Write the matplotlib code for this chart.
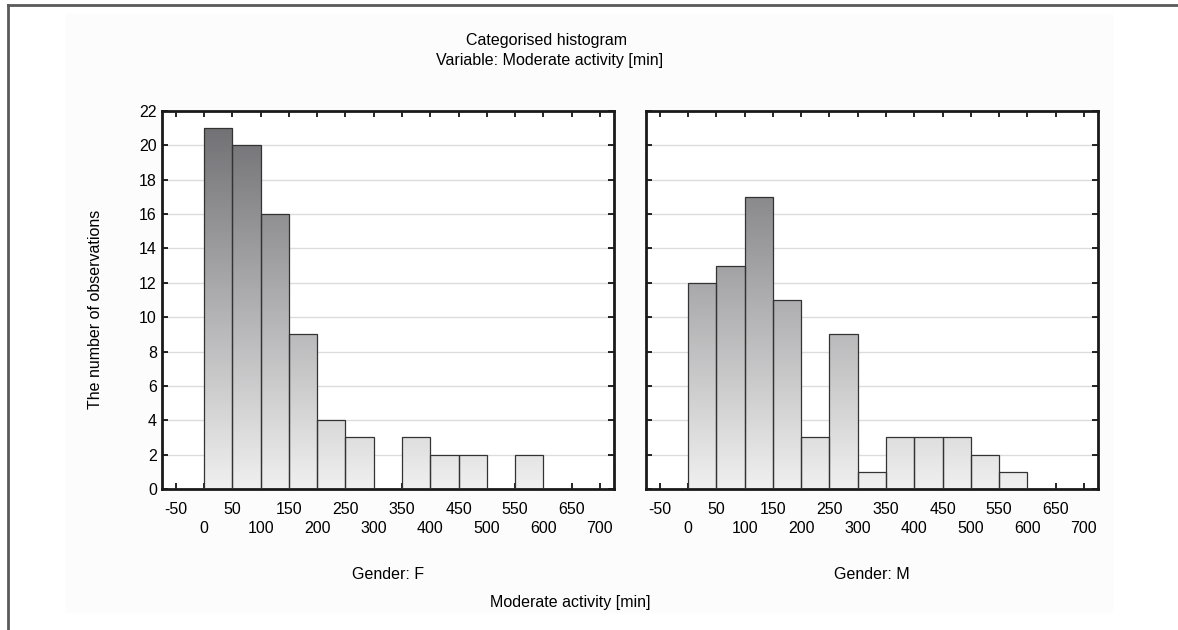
# ============================================================
# 分類ヒストグラム（性別ごと）: Moderate activity [min]
# ============================================================
import numpy as np
import matplotlib
matplotlib.use("Agg")
import matplotlib.pyplot as plt
from matplotlib.colors import LinearSegmentedColormap
from matplotlib.lines import Line2D
from matplotlib.patches import Rectangle

plt.rcParams['font.family'] = ['Liberation Sans', 'DejaVu Sans']

# ----------------------------
# データ（ビン幅 50 分）
# ----------------------------
bin_left = [0, 50, 100, 150, 200, 250, 300, 350, 400, 450, 500, 550]
bin_width = 50
counts_f = [21, 20, 16, 9, 4, 3, 0, 3, 2, 2, 0, 2]
counts_m = [12, 13, 17, 11, 3, 9, 1, 3, 3, 3, 2, 1]
panel_titles = ["Gender: F", "Gender: M"]
x_ticks = list(range(-50, 701, 50))
y_ticks = list(range(0, 23, 2))

FS = 11.5  # 文字サイズ

# 縦方向のグラデーション（上が濃い）
cmap = LinearSegmentedColormap.from_list("bar_grad", ["#f0f0f0", "#6c6c70"])
grad = np.linspace(0, 1, 256).reshape(-1, 1)

fig = plt.figure(figsize=(11.78, 6.3), dpi=100)

# 背景のうすいグレー領域と外枠（軸より後ろに描く）
fig.patches.append(Rectangle((66 / 1178, 1 - 612 / 630), (1112 - 66) / 1178, (612 - 14) / 630,
                             transform=fig.transFigure, color="#fcfcfc", zorder=-10))
fig.lines.append(Line2D([8 / 1178, 8 / 1178], [0, 1 - 5 / 630], transform=fig.transFigure,
                        color="#5a5a5a", lw=2))
fig.lines.append(Line2D([8 / 1178, 1], [1 - 5 / 630, 1 - 5 / 630], transform=fig.transFigure,
                        color="#5a5a5a", lw=2))

ax_f = fig.add_axes([161.7 / 1178, 1 - 489 / 630, 452.3 / 1178, 378 / 630])
ax_m = fig.add_axes([645.7 / 1178, 1 - 489 / 630, 452.3 / 1178, 378 / 630])

# x目盛りラベルを2段に振り分ける
x_labels = []
for i, t in enumerate(x_ticks):
    if i % 2 == 0:
        x_labels.append(str(t))
    else:
        x_labels.append("\n" + str(t))

for ax, counts, title in zip([ax_f, ax_m], [counts_f, counts_m], panel_titles):
    ax.set_facecolor("white")

    bars = ax.bar(bin_left, counts, width=bin_width, align="edge",
                  facecolor="none", edgecolor="#333333", linewidth=0.9, zorder=3)
    for b, c in zip(bars, counts):
        if c == 0:
            b.set_visible(False)
            continue
        im = ax.imshow(grad, cmap=cmap, aspect="auto", origin="lower",
                       extent=(b.get_x(), b.get_x() + b.get_width(), 0, 22), zorder=2)
        im.set_clip_path(b)
    ax.set_xlim(-75, 725)
    ax.set_ylim(0, 22)

    ax.set_yticks(y_ticks)
    ax.yaxis.grid(True, color="#dcdcdc", linewidth=1)
    ax.set_axisbelow(True)
    ax.set_xticks(x_ticks)
    ax.set_xticklabels(x_labels, linespacing=1.35)

    ax.tick_params(axis="both", direction="in", length=4, width=1.2,
                   top=True, right=True, labelsize=FS, colors="black")
    ax.tick_params(axis="x", pad=9)
    for s in ax.spines.values():
        s.set_linewidth(2)
        s.set_color("#1a1a1a")

    ax.text(0.5, -0.225, title, transform=ax.transAxes, ha="center", va="center", fontsize=FS)

ax_m.tick_params(axis="y", labelleft=False)

# タイトル・軸ラベル
fig.text(546 / 1178, 1 - 40 / 630, "Categorised histogram", ha="center", va="center", fontsize=FS)
fig.text(550 / 1178, 1 - 61 / 630, "Variable: Moderate activity [min]", ha="center", va="center", fontsize=FS)
fig.text(570 / 1178, 1 - 603 / 630, "Moderate activity [min]", ha="center", va="center", fontsize=FS)
fig.text(95 / 1178, 1 - 309 / 630, "The number of observations", rotation=90,
         ha="center", va="center", fontsize=FS)

fig.savefig("out.png", dpi=100)
